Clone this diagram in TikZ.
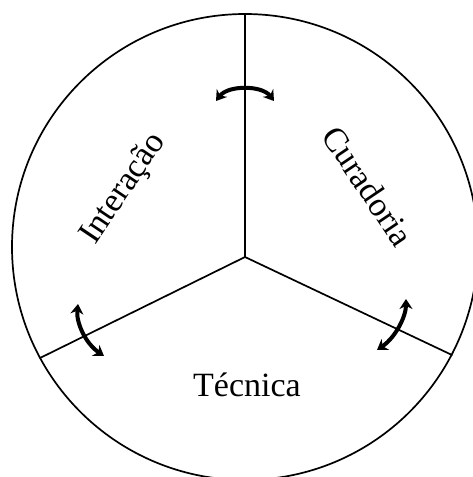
\documentclass[tikz,border=0pt]{standalone}
\usepackage{fontspec}
\setmainfont{Liberation Serif}
\usetikzlibrary{arrows.meta}

\begin{document}
\begin{tikzpicture}[x=1pt, y=-1pt, line width=1.7pt, line cap=round, line join=round,
  swing/.style={line width=4.0pt, line cap=butt,
    {Stealth[length=10pt,width=13pt]}-{Stealth[length=10pt,width=13pt]}},
  sector/.style={inner sep=0pt, font=\fontsize{34}{40}\selectfont}]

  %% ════ 圆与三条分隔线 ════
  \coordinate (ctr) at (245.0,247.0);
  \coordinate (hub) at (245.0,257.0);
  \coordinate (top) at (245.0,14.0);
  \coordinate (lft) at (40.0,358.0);
  \coordinate (rgt) at (452.0,355.0);
  \draw (ctr) circle (233);
  \draw (hub) -- (top);
  \draw (hub) -- (lft);
  \draw (hub) -- (rgt);

  %% ════ 双向弯箭头 ════
  \coordinate (t1) at (216.0,101.0);
  \coordinate (t2) at (274.0,101.0);
  \coordinate (l1) at (78.0,304.0);
  \coordinate (l2) at (104.0,356.0);
  \coordinate (r1) at (406.0,299.0);
  \coordinate (r2) at (377.0,350.0);
  \draw[swing] (t1) .. controls (228.0,85.0) and (262.0,85.0) .. (t2);
  \draw[swing] (l1) .. controls (76.0,322.0) and (85.0,343.0) .. (l2);
  \draw[swing] (r1) .. controls (406.0,316.0) and (396.0,337.0) .. (r2);

  %% ════ 标签 ════
  \node[sector, rotate=56] (inter) at (124.0,189.0) {Interação};
  \node[sector, rotate=-56] (cura) at (368.0,186.0) {Curadoria};
  \node[sector, anchor=base] (tecn) at (247.0,396.0) {Técnica};

  % 钉死画布
  \pgfresetboundingbox
  \path[use as bounding box] (0,0) rectangle (473,477);
\end{tikzpicture}
\end{document}
